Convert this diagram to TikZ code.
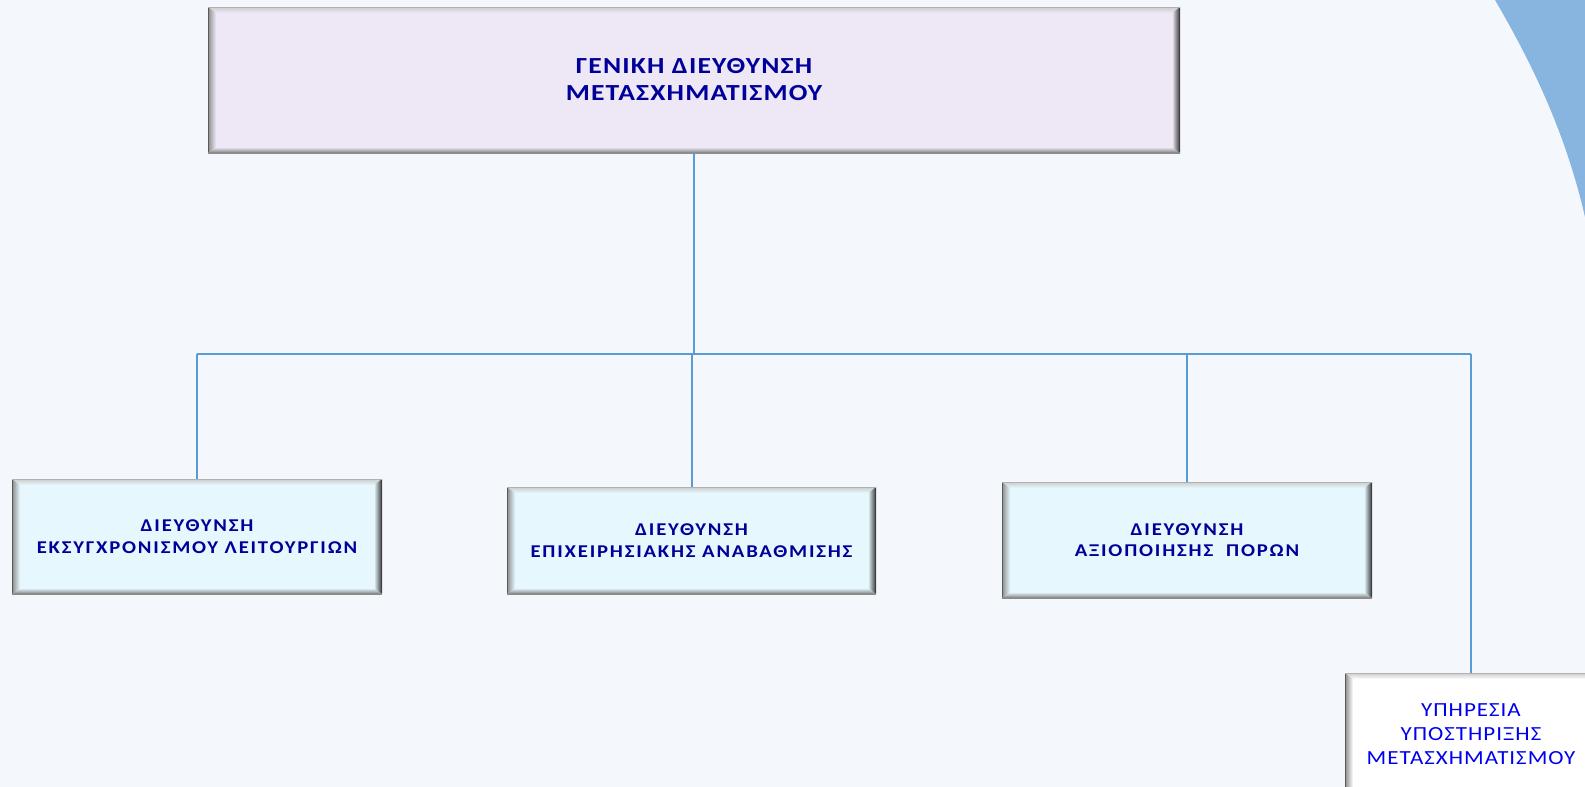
\documentclass[tikz,border=0pt]{standalone}
\usepackage{fontspec}
\setmainfont{Carlito}
\newfontfamily\topfont{Carlito}[LetterSpace=5,FakeStretch=1.2]
\newfontfamily\dirfont{Carlito}[LetterSpace=10,FakeStretch=1.15]
\newfontfamily\svcfont{Carlito}[LetterSpace=5,FakeStretch=1.15]
\definecolor{bg}{HTML}{F4F8FC}
\definecolor{arcblue}{HTML}{88B4E0}
\definecolor{linkblue}{HTML}{5B9BD5}
\definecolor{topfill}{HTML}{EEE8F6}
\definecolor{dirfill}{HTML}{E6F8FE}
\definecolor{navy}{HTML}{000099}
\definecolor{brightblue}{HTML}{0000EE}
\tikzset{
  bevel/.style={
    inner sep=0pt, align=center, fill=#1,
    path picture={
      \coordinate (NW) at (path picture bounding box.north west);
      \coordinate (NE) at (path picture bounding box.north east);
      \coordinate (SW) at (path picture bounding box.south west);
      \coordinate (SE) at (path picture bounding box.south east);
      \shade[top color=gray!40, bottom color=#1]
        (NW) -- (NE) -- ([xshift=-4pt,yshift=-3pt]NE) -- ([xshift=4pt,yshift=-3pt]NW) -- cycle;
      \shade[top color=#1, bottom color=black!50]
        (SW) -- (SE) -- ([xshift=-4pt,yshift=3pt]SE) -- ([xshift=4pt,yshift=3pt]SW) -- cycle;
      \shade[left color=black!45, right color=#1]
        (NW) -- ([xshift=4pt,yshift=-3pt]NW) -- ([xshift=4pt,yshift=3pt]SW) -- (SW) -- cycle;
      \shade[left color=#1, right color=black!80]
        (NE) -- ([xshift=-4pt,yshift=-3pt]NE) -- ([xshift=-4pt,yshift=3pt]SE) -- (SE) -- cycle;
      \draw[black!65, line width=1.2pt] (NW) -- (SW);
      \draw[black!75, line width=1.2pt] (NE) -- (SE);
      \draw[gray!60, line width=0.6pt] (NW) -- (NE);
      \draw[black!45, line width=0.8pt] (SW) -- (SE);
    }},
  topbox/.style={bevel=topfill, text=navy, font=\topfont\bfseries\fontsize{11.5}{13.5}\selectfont},
  dirbox/.style={bevel=dirfill, text=navy, font=\dirfont\bfseries\fontsize{9}{10.8}\selectfont},
  svcbox/.style={bevel=white, text=brightblue, font=\svcfont\fontsize{10}{12}\selectfont},
  link/.style={draw=linkblue, line width=1pt}
}
\begin{document}
\begin{tikzpicture}[x=0.5pt,y=-0.5pt]
\useasboundingbox (0,0) rectangle (1585,787);
\clip (0,0) rectangle (1585,787);
\fill[bg] (0,0) rectangle (1585,787);
\fill[arcblue] (1495,0) .. controls (1530,60) and (1565,130) .. (1585,217) -- (1590,217) -- (1590,-5) -- (1495,-5) -- cycle;

\node[topbox, minimum width=486pt, minimum height=73pt] (top) at (694,80)
  {ΓΕΝΙΚΗ ΔΙΕΥΘΥΝΣΗ\\ΜΕΤΑΣΧΗΜΑΤΙΣΜΟΥ};
\node[dirbox, minimum width=185pt, minimum height=57.5pt] (b1) at (197,536.5)
  {ΔΙΕΥΘΥΝΣΗ\\ΕΚΣΥΓΧΡΟΝΙΣΜΟΥ ΛΕΙΤΟΥΡΓΙΩΝ};
\node[dirbox, minimum width=184.5pt, minimum height=53.5pt] (b2) at (691.5,540.5)
  {ΔΙΕΥΘΥΝΣΗ\\ΕΠΙΧΕΙΡΗΣΙΑΚΗΣ ΑΝΑΒΑΘΜΙΣΗΣ};
\node[dirbox, minimum width=185pt, minimum height=58pt] (b3) at (1187,540)
  {ΔΙΕΥΘΥΝΣΗ\\ΑΞΙΟΠΟΙΗΣΗΣ\ \ ΠΟΡΩΝ};
\node[svcbox, minimum width=126pt, minimum height=61pt] (b4) at (1471,734)
  {ΥΠΗΡΕΣΙΑ\\ΥΠΟΣΤΗΡΙΞΗΣ\\ΜΕΤΑΣΧΗΜΑΤΙΣΜΟΥ};

\coordinate (bar) at (0,354);
\draw[link] (top.south) -- (top.south |- bar);
\draw[link] (b1.north |- bar) -- (b4.north |- bar);
\draw[link] (b1.north |- bar) -- (b1.north);
\draw[link] (b2.north |- bar) -- (b2.north);
\draw[link] (b3.north |- bar) -- (b3.north);
\draw[link] (b4.north |- bar) -- (b4.north);
\end{tikzpicture}
\end{document}
